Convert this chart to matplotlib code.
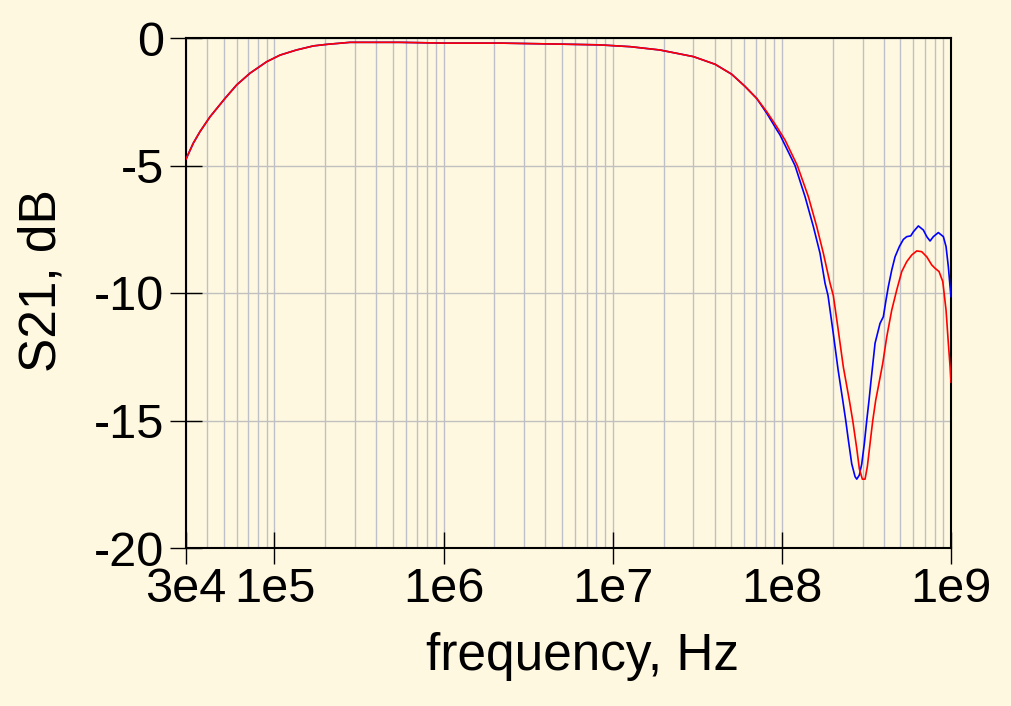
import numpy as np
import matplotlib
matplotlib.use('Agg')
import matplotlib.pyplot as plt
from matplotlib.ticker import FixedLocator, NullFormatter

# shared part of the response (both traces overlap here)
f_low = [3.0e4, 3.31e4, 3.63e4, 4.16e4, 5.10e4, 5.98e4, 7.17e4, 9.0e4, 1.08e5, 1.35e5,
         1.70e5, 2.04e5, 2.80e5, 5.5e5, 1.0e6, 2.16e6, 4.9e6, 8.4e6, 1.27e7, 1.90e7,
         3.0e7, 4.03e7, 5.05e7, 6.06e7, 7.1e7]
db_low = [-4.75, -4.13, -3.67, -3.09, -2.37, -1.84, -1.38, -0.93, -0.67, -0.47,
          -0.31, -0.25, -0.17, -0.17, -0.2, -0.2, -0.24, -0.27, -0.34, -0.47,
          -0.73, -1.03, -1.42, -1.9, -2.37]

# blue trace above 7e7 Hz
f_blue = [8.14e7, 9.33e7, 9.75e7, 1.196e8, 1.371e8, 1.536e8, 1.681e8, 1.800e8, 1.875e8,
          2.015e8, 2.149e8, 2.290e8, 2.386e8, 2.472e8, 2.589e8, 2.708e8, 2.772e8, 2.872e8,
          2.967e8, 3.074e8, 3.176e8, 3.277e8, 3.354e8, 3.556e8, 3.806e8, 3.981e8, 4.130e8,
          4.261e8, 4.463e8, 4.669e8, 4.950e8, 5.226e8, 5.474e8, 5.781e8, 5.989e8, 6.412e8,
          6.864e8, 7.189e8, 7.519e8, 7.864e8, 8.419e8, 9.012e8, 9.348e8, 9.645e8, 9.872e8,
          1.0e9]
db_blue = [-2.95, -3.6, -3.8, -5.0, -6.22, -7.4, -8.44, -9.62, -10.1,
           -11.6, -13.0, -14.2, -15.0, -15.76, -16.7, -17.2, -17.3, -17.14,
           -16.7, -15.9, -15.0, -14.2, -13.54, -11.97, -11.19, -10.93, -10.27,
           -9.75, -9.1, -8.58, -8.18, -7.9, -7.79, -7.76, -7.6, -7.37,
           -7.53, -7.79, -7.96, -7.79, -7.63, -7.79, -8.18, -8.97, -9.75,
           -10.14]

# red trace above 7e7 Hz
f_red = [8.14e7, 9.33e7, 1.044e8, 1.234e8, 1.434e8, 1.608e8, 1.759e8, 1.927e8, 2.015e8,
         2.149e8, 2.309e8, 2.505e8, 2.624e8, 2.772e8, 2.872e8, 2.991e8, 3.104e8, 3.203e8,
         3.322e8, 3.447e8, 3.589e8, 3.719e8, 3.948e8, 4.170e8, 4.463e8, 4.778e8, 5.114e8,
         5.474e8, 5.860e8, 6.273e8, 6.714e8, 7.189e8, 7.693e8, 8.049e8, 8.499e8, 8.940e8,
         9.348e8, 9.645e8, 9.872e8, 1.0e9]
db_red = [-2.89, -3.48, -4.0, -5.0, -6.22, -7.4, -8.44, -9.62, -10.1,
          -11.4, -12.9, -14.2, -15.0, -16.1, -16.9, -17.3, -17.3, -16.8,
          -15.9, -15.0, -14.2, -13.67, -12.76, -11.72, -10.67, -9.88, -9.16,
          -8.77, -8.51, -8.35, -8.38, -8.58, -8.9, -9.03, -9.16, -9.55,
          -10.67, -11.97, -12.88, -13.5]

xticks = [3e4, 1e5, 1e6, 1e7, 1e8, 1e9]
xtick_labels = ['3e4', '1e5', '1e6', '1e7', '1e8', '1e9']
yticks = [0, -5, -10, -15, -20]

plt.rcParams['font.family'] = ['Liberation Sans', 'DejaVu Sans']
bg = '#fff8e0'

fig = plt.figure(figsize=(10.12, 7.06), dpi=100, facecolor=bg)
ax = fig.add_axes([186/1012, 1-548/706, 765/1012, 510/706])
ax.set_facecolor(bg)

ax.plot(f_low + f_blue, db_low + db_blue, color='#0000ff', lw=1.2, zorder=3)
ax.plot(f_low + f_red, db_low + db_red, color='#ff0000', lw=1.2, zorder=4)

ax.set_xscale('log')
ax.set_xlim(3e4, 1e9)
ax.set_ylim(-20, 0)

minor = []
for dec in range(4, 9):
    for m in range(2, 10):
        v = m * 10.0**dec
        if 3e4 < v < 1e9 and v not in xticks:
            minor.append(v)
ax.xaxis.set_major_locator(FixedLocator(xticks))
ax.set_xticklabels(xtick_labels)
ax.xaxis.set_minor_locator(FixedLocator(minor))
ax.xaxis.set_minor_formatter(NullFormatter())
ax.set_yticks(yticks)
ax.set_yticklabels([str(t) for t in yticks])

ax.grid(True, axis='x', which='both', color='#bfbfca', lw=1.0, zorder=0)
ax.grid(True, axis='y', which='major', color='#c0c0c0', lw=1.0, zorder=0)
ax.set_axisbelow(True)

ax.tick_params(axis='both', which='major', direction='inout', length=23, width=1.0,
               labelsize=35, color='black')
ax.tick_params(axis='x', which='major', pad=2)
ax.tick_params(axis='y', which='major', pad=4)
ax.tick_params(axis='x', which='minor', length=0)
for s in ax.spines.values():
    s.set_linewidth(1.5)
    s.set_color('black')

ax.set_xlabel('frequency, Hz', fontsize=37)
ax.set_ylabel('S21, dB', fontsize=37)
ax.xaxis.set_label_coords(0.518, -0.165)
ax.yaxis.set_label_coords(-0.156, 0.524)

fig.savefig('out.png', dpi=100, facecolor=bg)
